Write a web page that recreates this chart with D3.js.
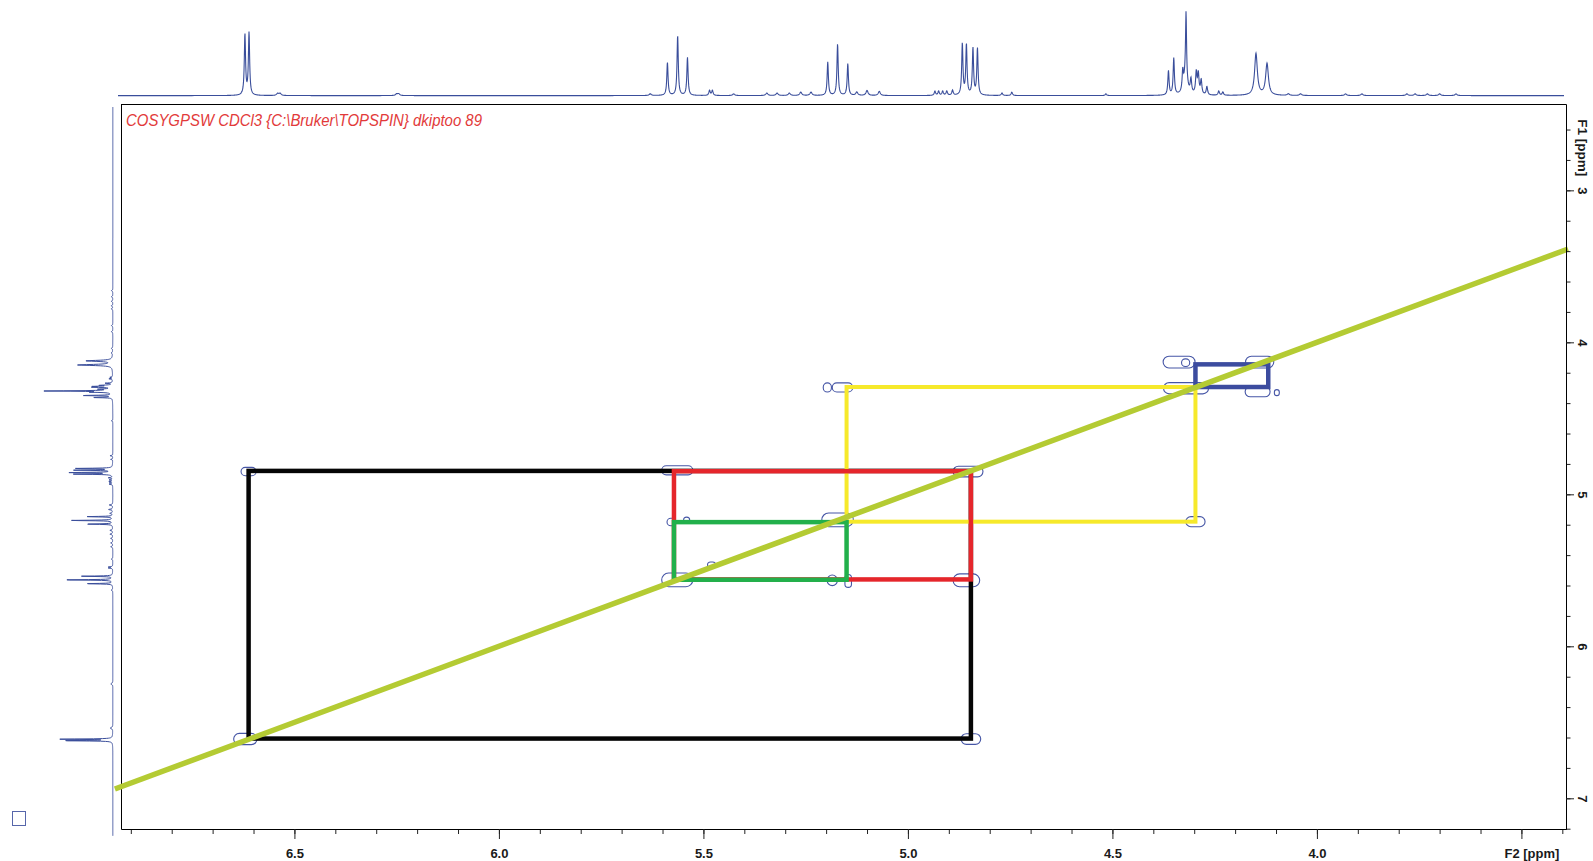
<!DOCTYPE html>
<html>
<head>
<meta charset="utf-8">
<script src="https://cdn.jsdelivr.net/npm/d3@7"></script>
<style>
  html, body { margin: 0; padding: 0; background: #fff; overflow: hidden; }
  svg { display: block; }
  text { font-family: "Liberation Sans", Arial, sans-serif; }
</style>
</head>
<body>
<svg id="chart" width="1593" height="861"></svg>
<script>
// ---- spectral windows (ppm) ----
const f2Window = [6.924, 3.391];   // direct dimension, left -> right
const f1Window = [2.432, 7.202];   // indirect dimension, top -> bottom

// ---- axis ticks ----
const f2MajorTicks = [6.5, 6.0, 5.5, 5.0, 4.5, 4.0, 3.5];
const f2TickLabels = ["6.5", "6.0", "5.5", "5.0", "4.5", "4.0", "F2 [ppm]"];
const f2MinorTicks = d3.range(34, 70).map(i => i / 10);      // every 0.1 ppm
const f1MajorTicks = [3, 4, 5, 6, 7];
const f1TickLabels = ["3", "4", "5", "6", "7"];
const f1MinorTicks = d3.range(13, 37).map(i => i / 5);       // every 0.2 ppm
const f1UnitLabel = "F1 [ppm]";
const f1UnitPosition = 2.72;

const titleText = "COSYGPSW CDCl3 {C:\\Bruker\\TOPSPIN} dkiptoo 89";

// ---- 1H projection: peak shift (ppm), relative intensity, half width (ppm) ----
const peakShift = [
  6.621, 6.611, 6.541, 6.535, 6.250, 6.245, 5.630,
  5.588, 5.563, 5.539, 5.485, 5.478, 5.426, 5.345, 5.320, 5.290, 5.262, 5.237,
  5.196, 5.172, 5.147, 5.125, 5.100, 5.070,
  4.934, 4.925, 4.915, 4.905, 4.891, 4.867, 4.857, 4.841, 4.830, 4.770, 4.746, 4.516,
  4.363, 4.350, 4.328, 4.321, 4.320, 4.308, 4.295, 4.290, 4.283, 4.269, 4.240, 4.230,
  4.149, 4.122, 4.070, 4.040, 3.930, 3.890, 3.780, 3.760, 3.730, 3.700, 3.660
];
const peakIntensity = [
  72.7, 74.6, 2.5, 2.5, 2, 2, 2,
  39.5, 72, 45.5, 6, 6, 2, 3, 3, 3, 4, 4,
  40, 61.5, 38, 4, 6, 5,
  5, 5, 5, 5, 6, 61.5, 60.5, 56, 56, 3, 4, 2,
  29, 44, 23, 25, 75, 17, 26, 24, 17, 10, 5, 4,
  50, 38, 2, 2, 2, 2, 2, 2, 2, 2, 2
];
const peakHalfWidth = [
  0.0018, 0.0018, 0.003, 0.003, 0.003, 0.003, 0.003,
  0.0018, 0.0018, 0.0018, 0.002, 0.002, 0.003, 0.003, 0.003, 0.003, 0.003, 0.003,
  0.0018, 0.0018, 0.0018, 0.003, 0.003, 0.003,
  0.002, 0.002, 0.002, 0.002, 0.002, 0.0018, 0.0018, 0.0018, 0.0018, 0.002, 0.002, 0.002,
  0.0018, 0.0018, 0.0018, 0.005, 0.0014, 0.002, 0.002, 0.002, 0.002, 0.002, 0.002, 0.002,
  0.004, 0.004, 0.003, 0.003, 0.003, 0.003, 0.003, 0.003, 0.003, 0.003, 0.003
];

// ---- COSY cross / diagonal peaks: centre (F2, F1) and contour extent (ppm) ----
const crossF2    = [6.620, 6.612, 4.846, 5.564, 4.853, 5.564, 5.172, 5.185, 5.146, 4.857, 5.578, 5.541, 5.480, 5.197, 5.160, 4.297, 4.320, 4.337, 4.140, 4.145, 4.321, 4.098];
const crossF1    = [6.610, 4.850, 6.610, 4.842, 4.850, 5.563, 5.168, 5.566, 5.570, 5.566, 5.182, 5.170, 5.465, 4.297, 4.297, 5.180, 4.302, 4.130, 4.130, 4.325, 4.134, 4.331];
const crossSpan2 = [0.057, 0.037, 0.048, 0.076, 0.073, 0.076, 0.077, 0.025, 0.016, 0.065, 0.022, 0.015, 0.020, 0.020, 0.050, 0.047, 0.110, 0.078, 0.069, 0.061, 0.020, 0.012];
const crossSpan1 = [0.074, 0.055, 0.070, 0.060, 0.070, 0.090, 0.090, 0.070, 0.085, 0.085, 0.050, 0.040, 0.040, 0.060, 0.060, 0.066, 0.074, 0.077, 0.077, 0.066, 0.050, 0.040];

// ---- correlation walks (F2 left/right, F1 top/bottom, ppm) ----
const walkNames = ["black", "yellow", "red", "green", "blue"];
const walkF2 = [[6.612, 4.846], [5.150, 4.297], [5.572, 4.846], [5.572, 5.150], [4.297, 4.119]];
const walkF1 = [[4.846, 6.607], [4.294, 5.180], [4.848, 5.560], [5.183, 5.562], [4.145, 4.294]];
const diagonalSpan = [6.939, 3.386];

// ---- styles ----
const walkColor = { black: "#050505", yellow: "#f6e92b", red: "#e5262b", green: "#22b04b", blue: "#3c4c9f" };
const walkWidth = { black: 4.5, yellow: 4, red: 4.5, green: 4.5, blue: 4.5 };
const specColor = "#3a4e9b";
const contourColor = "#4656a6";

const svg = d3.select("#chart");
const frame = { left: 121, right: 1566, top: 104, bottom: 829 };

const x = d3.scaleLinear().domain(f2Window).range([frame.left, frame.right]);
const y = d3.scaleLinear().domain(f1Window).range([frame.top, frame.bottom]);

// intensity scales of the two projections
const topInt = d3.scaleLinear().domain([0, 100]).range([95.6, 12.2]);
const leftInt = d3.scaleLinear().domain([0, 100]).range([112.8, 43.3]);

function intensityAt(ppm) {
  let s = 0;
  for (let i = 0; i < peakShift.length; i++) {
    const w = peakHalfWidth[i], d = ppm - peakShift[i];
    s += peakIntensity[i] * w * w / (w * w + d * d);
  }
  return s;
}

// ---- top (F2) projection ----
const topPts = [];
for (let px = 118; px <= frame.right - 2; px += 0.25) {
  const ppm = x.invert(px);
  topPts.push([ppm, intensityAt(ppm)]);
}
svg.append("path")
  .attr("d", d3.line().x(d => x(d[0])).y(d => topInt(d[1]))(topPts))
  .attr("fill", "none").attr("stroke", specColor).attr("stroke-width", 1.1);

// ---- left (F1) projection ----
const leftPts = [];
for (let py = 107; py <= 836; py += 0.2) {
  const ppm = y.invert(py);
  leftPts.push([ppm, intensityAt(ppm)]);
}
svg.append("path")
  .attr("d", d3.line().x(d => leftInt(d[1])).y(d => y(d[0]))(leftPts))
  .attr("fill", "none").attr("stroke", specColor).attr("stroke-width", 1);

// ---- frame ----
svg.append("line").attr("x1", frame.left + 0.5).attr("x2", frame.left + 0.5)
  .attr("y1", frame.top).attr("y2", frame.bottom).attr("stroke", "#000");
svg.append("line").attr("x1", frame.left).attr("x2", frame.right)
  .attr("y1", frame.top + 0.5).attr("y2", frame.top + 0.5).attr("stroke", "#000");

// ---- title ----
svg.append("text")
  .attr("x", 126).attr("y", 125.5)
  .attr("font-size", 17).attr("font-style", "italic")
  .attr("fill", "#e23a3a")
  .attr("textLength", 356).attr("lengthAdjust", "spacingAndGlyphs")
  .text(titleText);

// ---- cross-peak contours ----
svg.append("g").selectAll("rect").data(crossF2.map((f2, i) => i)).join("rect")
  .attr("x", i => x(crossF2[i] + crossSpan2[i] / 2))
  .attr("y", i => y(crossF1[i] - crossSpan1[i] / 2))
  .attr("width", i => x(crossF2[i] - crossSpan2[i] / 2) - x(crossF2[i] + crossSpan2[i] / 2))
  .attr("height", i => y(crossF1[i] + crossSpan1[i] / 2) - y(crossF1[i] - crossSpan1[i] / 2))
  .attr("rx", i => Math.min(x(crossF2[i] - crossSpan2[i] / 2) - x(crossF2[i] + crossSpan2[i] / 2),
                            y(crossF1[i] + crossSpan1[i] / 2) - y(crossF1[i] - crossSpan1[i] / 2)) / 2)
  .attr("fill", "none").attr("stroke", contourColor).attr("stroke-width", 1.1);

// ---- correlation walks ----
svg.append("g").selectAll("rect").data(walkNames).join("rect")
  .attr("x", (n, i) => x(walkF2[i][0]))
  .attr("y", (n, i) => y(walkF1[i][0]))
  .attr("width", (n, i) => x(walkF2[i][1]) - x(walkF2[i][0]))
  .attr("height", (n, i) => y(walkF1[i][1]) - y(walkF1[i][0]))
  .attr("fill", "none")
  .attr("stroke", n => walkColor[n])
  .attr("stroke-width", n => walkWidth[n]);

// ---- diagonal F1 = F2 ----
svg.append("line")
  .attr("x1", x(diagonalSpan[0])).attr("y1", y(diagonalSpan[0]))
  .attr("x2", x(diagonalSpan[1])).attr("y2", y(diagonalSpan[1]))
  .attr("stroke", "#b4cb33").attr("stroke-width", 5.5);

// ---- F2 axis ----
const gx = svg.append("g").attr("transform", `translate(0,${frame.bottom})`);
gx.call(d3.axisBottom(x).tickValues(f2MinorTicks).tickSize(5).tickSizeOuter(0).tickFormat(""));
gx.call(g => g.append("g").call(
  d3.axisBottom(x).tickValues(f2MajorTicks).tickSize(10).tickSizeOuter(0)
    .tickFormat((d, i) => f2TickLabels[i])));
gx.selectAll("path.domain").attr("stroke", "#000");
gx.selectAll("line").attr("stroke", "#222");
gx.selectAll("text")
  .attr("y", 20).attr("dy", "0.71em")
  .attr("fill", "#1a1a1a")
  .attr("font-size", 13).attr("font-weight", "bold")
  .attr("font-family", "Liberation Sans, Arial, sans-serif");
gx.selectAll("text").filter((d) => d === 3.5).attr("dx", 10);

// ---- F1 axis (right) ----
const gy = svg.append("g").attr("transform", `translate(${frame.right},0)`);
gy.call(d3.axisRight(y).tickValues(f1MinorTicks.filter(v => v <= f1Window[1])).tickSize(4.5).tickSizeOuter(0).tickFormat(""));
gy.call(g => g.append("g").call(
  d3.axisRight(y).tickValues(f1MajorTicks).tickSize(8).tickSizeOuter(0)
    .tickFormat((d, i) => f1TickLabels[i])));
gy.selectAll("path.domain").attr("stroke", "#000");
gy.selectAll("line").attr("stroke", "#222");
gy.selectAll("text")
  .attr("x", null).attr("dy", null)
  .attr("text-anchor", "middle")
  .attr("dominant-baseline", "central")
  .attr("transform", "translate(16,0) rotate(90)")
  .attr("fill", "#1a1a1a")
  .attr("font-size", 13).attr("font-weight", "bold")
  .attr("font-family", "Liberation Sans, Arial, sans-serif");

gy.append("text")
  .attr("transform", `translate(16,${y(f1UnitPosition)}) rotate(90)`)
  .attr("text-anchor", "middle").attr("dominant-baseline", "central")
  .attr("fill", "#1a1a1a").attr("font-size", 13.5).attr("font-weight", "bold")
  .text(f1UnitLabel);

// ---- small marker box at lower left ----
svg.append("rect")
  .attr("x", 12.5).attr("y", 811.5).attr("width", 13).attr("height", 14)
  .attr("fill", "none").attr("stroke", "#5666aa").attr("stroke-width", 1);
</script>
</body>
</html>
